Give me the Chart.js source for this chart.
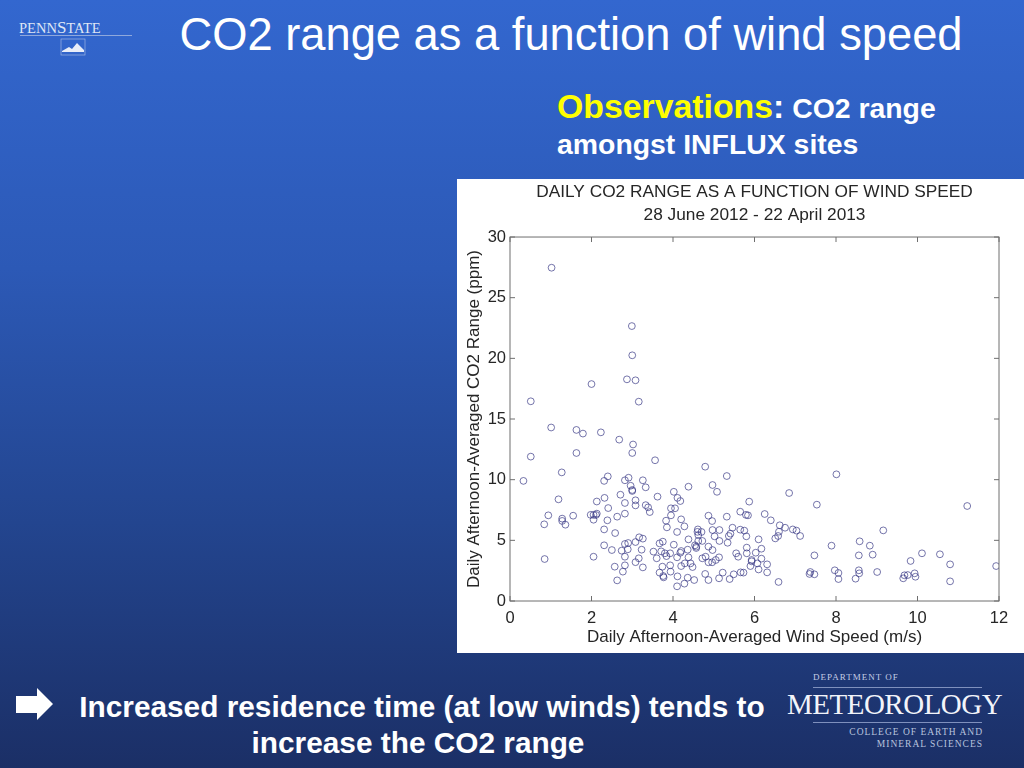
<!DOCTYPE html>
<html>
<head>
<meta charset="utf-8">
<title>CO2 range as a function of wind speed</title>
<script src="https://cdn.jsdelivr.net/npm/chart.js@4"></script>
<style>
  html, body { margin: 0; padding: 0; }
  body {
    width: 1024px; height: 768px; overflow: hidden; position: relative;
    background: linear-gradient(180deg, #3367cf 0%, #2c59b6 35%, #23458f 68%, #1b2f66 100%);
    font-family: "Liberation Sans", Arial, sans-serif; color: #fff;
  }
  .abs { position: absolute; white-space: nowrap; }
  #slideTitle { left: 171px; width: 800px; top: 10px; text-align: center; font-size: 45.3px; line-height: 50px; }
  #obs { left: 557px; top: 88px; font-weight: bold; font-size: 28.4px; line-height: 36px; }
  #obs b { color: #ffff00; font-size: 33.8px; }
  #obs i { font-style: normal; font-size: 33.8px; }
  #note { left: 60px; width: 724px; top: 689px; text-align: center; font-weight: bold; font-size: 29.8px; line-height: 36px; }
  #note span { position: relative; left: -4px; }
  #box { position: absolute; left: 457px; top: 179px; width: 567px; height: 474px; background: #fff; }
  #pennstate { left: 19px; top: 18px; font-family: "Liberation Serif", serif; font-size: 14.5px; color: #dfe6f5; }
  #pennstate span { font-size: 17px; }
  #psRule { left: 20px; top: 35px; width: 112px; height: 1px; background: #8fa8dc; }
  #meteo { left: 787px; top: 688px; font-family: "Liberation Serif", serif; font-size: 29px; letter-spacing: -0.5px; color: #f2f4fa; }
  #dept { left: 813px; top: 672px; font-family: "Liberation Serif", serif; font-size: 9px; letter-spacing: 1px; color: #c4cde4; }
  #college { left: 790px; width: 193px; top: 726px; text-align: right; font-family: "Liberation Serif", serif; font-size: 9.5px; line-height: 12px; letter-spacing: 1px; color: #b8c3de; }
  .rule { height: 1px; left: 813px; width: 169px; background: #7f90bd; }
</style>
</head>
<body>
<div class="abs" id="slideTitle">CO2 range as a function of wind speed</div>
<div class="abs" id="obs"><b>Observations</b><i>:</i> CO2 range<br>amongst INFLUX sites</div>

<div class="abs" id="pennstate">PENN<span>S</span>TATE</div>
<div class="abs" id="psRule"></div>
<svg class="abs" style="left:60px;top:38px" width="28" height="28" viewBox="0 0 28 28">
  <rect x="1" y="1" width="24" height="16" fill="none" stroke="#9fb4e2" stroke-width="0.7"/>
  <path d="M2 13 L9 9 L12 11 L17 5 L24 12 L24 14 L2 14 Z" fill="#e8edf8"/>
</svg>

<div id="box"><canvas id="rangeChart" width="567" height="474"></canvas></div>

<svg class="abs" style="left:16px;top:688px" width="38" height="32" viewBox="0 0 38 32">
  <path d="M0 8 H21 V0 L37 16 L21 32 V25 H0 Z" fill="#fff"/>
</svg>
<div class="abs" id="note">Increased residence time (at low winds) tends to<br><span>increase the CO2 range</span></div>

<div class="abs" id="dept">DEPARTMENT OF</div>
<div class="abs rule" style="top:687px"></div>
<div class="abs" id="meteo">METEOROLOGY</div>
<div class="abs rule" style="top:722px"></div>
<div class="abs" id="college">COLLEGE OF EARTH AND<br>MINERAL SCIENCES</div>

<script>
// same order in both arrays
const windSpeed = [
  1.02, 2.99, 3.0, 2.0, 2.87, 3.08, 0.51, 3.16,
  1.01, 1.63, 1.79, 2.23, 2.68, 3.02, 3.0, 1.63, 0.51, 3.56, 1.27, 4.79, 5.32, 2.4, 2.31, 0.33,
  2.82, 2.91, 3.26, 2.96, 3.33, 3.0, 3.0, 4.38, 4.97, 5.08, 4.02, 4.11, 4.18, 5.87, 1.19, 2.32,
  2.13, 2.71, 2.82, 3.08, 3.08, 3.62, 3.33, 3.39, 3.43, 2.41, 3.95, 4.05, 3.95, 5.65, 5.79, 5.84,
  4.87, 5.32, 0.94, 1.55, 1.28, 1.28, 1.36, 0.84, 1.98, 2.05, 2.13, 2.11, 2.05, 2.39, 2.63, 2.82,
  3.83, 4.2, 4.96, 4.28, 3.85, 2.31, 2.58, 4.1, 4.61, 4.6, 4.7, 4.62, 4.97, 5.14, 5.46, 5.65,
  5.75, 5.02, 5.8, 5.41, 5.37, 5.14, 6.1, 4.38, 4.72, 4.62, 5.34, 3.17, 3.26, 3.08, 2.9, 2.82,
  2.31, 3.75, 3.67, 4.02, 4.54, 4.57, 4.57, 4.87, 5.81, 2.5, 2.74, 2.89, 3.23, 3.52, 3.71, 3.8,
  3.93, 4.2, 4.18, 4.36, 4.97, 3.84, 3.6, 2.82, 2.05, 0.85, 3.16, 3.08, 4.1, 4.38, 4.72, 4.8,
  4.87, 4.96, 5.05, 5.13, 5.55, 5.6, 5.81, 6.03, 5.93, 5.93, 6.07, 6.1, 5.9, 2.82, 2.57, 3.26,
  3.93, 3.74, 4.2, 4.29, 4.43, 4.48, 2.77, 3.94, 3.67, 3.76, 3.77, 4.11, 4.36, 4.52, 4.79, 4.87,
  5.13, 5.22, 5.39, 5.49, 5.66, 5.73, 2.63, 4.28, 4.1,
  8.01, 11.22, 6.85, 7.53, 6.25, 6.4, 6.62, 6.75, 6.94, 7.03, 7.12, 6.6, 6.58, 6.51, 9.16, 8.58,
  8.83, 7.89, 6.17, 8.56, 8.9, 7.47, 10.11, 10.55, 9.83, 10.8, 11.93, 6.17, 6.31, 6.31, 6.59,
  7.37, 7.35, 7.47, 7.97, 8.06, 8.06, 8.56, 8.57, 8.48, 9.01, 9.65, 9.68, 9.76, 9.93, 9.95, 10.8
];
const co2Range = [
  27.47, 22.66, 20.25, 17.88, 18.27, 18.19, 16.46, 16.43,
  14.3, 14.1, 13.8, 13.9, 13.3, 12.9, 12.2, 12.2, 11.9, 11.6, 10.6, 11.07, 10.3, 10.27, 9.9, 9.9,
  9.95, 10.16, 9.95, 9.5, 9.37, 9.15, 9.07, 9.42, 9.56, 9.0, 9.0, 8.5, 8.24, 8.19, 8.38, 8.5,
  8.2, 8.76, 8.08, 8.3, 7.88, 8.6, 7.9, 7.72, 7.33, 7.66, 7.64, 7.64, 7.06, 7.36, 7.1, 7.06,
  7.03, 6.95, 7.06, 7.03, 6.79, 6.6, 6.29, 6.32, 7.1, 7.1, 7.2, 7.09, 6.7, 6.65, 6.95, 7.2,
  6.62, 6.73, 6.59, 6.15, 6.07, 5.9, 5.6, 5.69, 5.9, 5.7, 5.69, 5.44, 5.85, 5.85, 6.04, 5.88,
  5.8, 5.33, 5.33, 5.55, 5.36, 4.95, 5.08, 5.08, 4.95, 4.95, 4.8, 5.25, 5.14, 4.86, 4.78, 4.7,
  4.59, 4.89, 4.75, 4.64, 4.59, 4.48, 4.37, 4.48, 4.4, 4.2, 4.15, 4.26, 4.23, 4.07, 4.09, 3.93,
  3.93, 4.12, 3.98, 4.23, 4.2, 3.7, 3.52, 3.65, 3.65, 3.46, 3.52, 3.2, 3.6, 3.6, 3.52, 3.65,
  3.19, 3.19, 3.38, 3.6, 3.93, 3.65, 3.93, 3.98, 3.38, 3.27, 3.1, 2.6, 2.88, 2.94, 2.83, 2.77,
  2.94, 2.83, 2.88, 3.1, 3.1, 2.8, 2.42, 2.42, 2.34, 2.06, 1.95, 2.03, 1.92, 1.73, 2.23, 1.73,
  1.87, 2.34, 1.81, 2.2, 2.36, 2.34, 1.7, 1.43, 1.21,
  10.44, 7.83, 8.9, 7.94, 7.17, 6.65, 6.24, 6.04, 5.9, 5.8, 5.36, 5.71, 5.36, 5.16, 5.82, 4.92,
  4.56, 4.56, 4.31, 3.76, 3.82, 3.76, 3.93, 3.85, 3.3, 3.02, 2.88, 3.49, 3.02, 2.36, 1.57,
  2.39, 2.23, 2.2, 2.53, 2.31, 1.81, 2.53, 2.28, 1.84, 2.39, 1.87, 2.12, 2.14, 2.28, 2.0, 1.62
];
const xTicks = [0, 2, 4, 6, 8, 10, 12];
const yTicks = [0, 5, 10, 15, 20, 25, 30];

const textColor = "#262626";
const frameColor = "#6e6e6e";

// matlab style box: full frame plus short ticks pointing inwards
const boxFrame = {
  id: "boxFrame",
  afterDatasetsDraw(chart) {
    const { ctx, chartArea: a, scales } = chart;
    ctx.save();
    ctx.strokeStyle = frameColor;
    ctx.lineWidth = 1;
    ctx.strokeRect(a.left, a.top, a.right - a.left, a.bottom - a.top);
    ctx.beginPath();
    xTicks.forEach((t) => {
      const px = scales.x.getPixelForValue(t);
      ctx.moveTo(px, a.bottom); ctx.lineTo(px, a.bottom - 5);
      ctx.moveTo(px, a.top); ctx.lineTo(px, a.top + 5);
    });
    yTicks.forEach((t) => {
      const py = scales.y.getPixelForValue(t);
      ctx.moveTo(a.left, py); ctx.lineTo(a.left + 5, py);
      ctx.moveTo(a.right, py); ctx.lineTo(a.right - 5, py);
    });
    ctx.stroke();
    ctx.restore();
  },
};

new Chart(document.getElementById("rangeChart"), {
  type: "scatter",
  data: {
    datasets: [
      {
        data: windSpeed.map((x, i) => ({ x, y: co2Range[i] })),
        pointStyle: "circle",
        pointRadius: 3.4,
        pointBorderWidth: 0.9,
        pointBackgroundColor: "transparent",
        pointBorderColor: "rgba(50,50,130,0.75)",
      },
    ],
  },
  plugins: [boxFrame],
  options: {
    responsive: false,
    animation: false,
    layout: { padding: { left: 0, right: 25, top: 0, bottom: 0 } },
    plugins: {
      legend: { display: false },
      tooltip: { enabled: false },
      title: {
        display: true,
        fullSize: false,
        text: "DAILY CO2 RANGE AS A FUNCTION OF WIND SPEED",
        color: textColor,
        font: { family: "Liberation Sans", size: 17.3, weight: "normal" },
        padding: { top: 2.5, bottom: 1 },
      },
      subtitle: {
        display: true,
        fullSize: false,
        text: "28 June 2012 - 22 April 2013",
        color: textColor,
        font: { family: "Liberation Sans", size: 17.3, weight: "normal" },
        padding: { top: 1.3, bottom: 11.7 },
      },
    },
    scales: {
      x: {
        type: "linear",
        min: 0,
        max: 12,
        afterBuildTicks: (s) => { s.ticks = xTicks.map((value) => ({ value })); },
        afterFit: (s) => { s.height = 52; },
        grid: { display: false, drawTicks: false },
        border: { display: false },
        ticks: { color: textColor, font: { family: "Liberation Sans", size: 16.5 }, padding: 8, maxRotation: 0 },
        title: {
          display: true,
          text: "Daily Afternoon-Averaged Wind Speed (m/s)",
          color: textColor,
          font: { family: "Liberation Sans", size: 17 },
          padding: { top: 0, bottom: 5 },
        },
      },
      y: {
        min: 0,
        max: 30,
        afterBuildTicks: (s) => { s.ticks = yTicks.map((value) => ({ value })); },
        afterFit: (s) => { s.width = 53; },
        grid: { display: false, drawTicks: false },
        border: { display: false },
        ticks: { color: textColor, font: { family: "Liberation Sans", size: 16.5 }, padding: 4 },
        title: {
          display: true,
          text: "Daily Afternoon-Averaged CO2 Range (ppm)",
          color: textColor,
          font: { family: "Liberation Sans", size: 17 },
          padding: { top: 7, bottom: 0 },
        },
      },
    },
  },
});
</script>
</body>
</html>
